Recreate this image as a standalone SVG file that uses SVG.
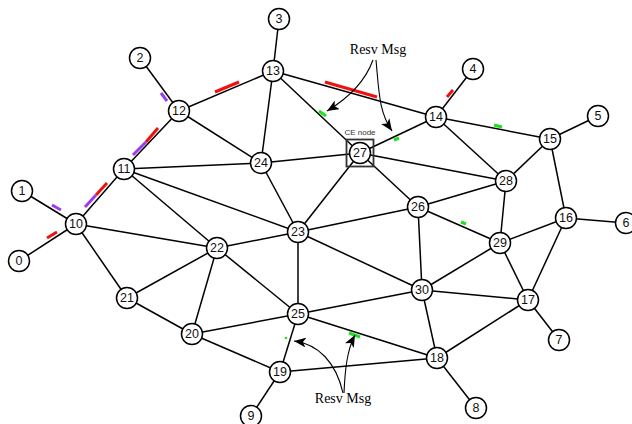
<svg xmlns="http://www.w3.org/2000/svg" width="632" height="424" viewBox="0 0 632 424">
  <style>
    .edge { stroke: #000; stroke-width: 1.5; fill: none; }
    .node circle { fill: #fff; stroke: #000; stroke-width: 1.5; }
    .node text { font-family: "Liberation Sans", Arial, sans-serif; font-size: 12.5px; fill: #111; text-anchor: middle; dominant-baseline: central; }
    .red { stroke: #f01010; stroke-width: 3; stroke-linecap: butt; }
    .purple { stroke: #9b3cf0; stroke-width: 3; stroke-linecap: butt; }
    .green { stroke: #1fe01f; stroke-width: 3; stroke-linecap: butt; }
    .note { font-family: "Liberation Serif", "Times New Roman", serif; font-size: 14px; fill: #000; text-anchor: middle; }
    .callout { stroke: #000; stroke-width: 1.1; fill: none; marker-end: url(#head); }
    .ce-box { fill: none; stroke: #333; stroke-width: 1.8; }
    .ce-label { font-family: "Liberation Sans", Arial, sans-serif; font-size: 8px; fill: #333; text-anchor: middle; }
  </style>
  <defs>
    <marker id="head" viewBox="0 0 12 10" refX="12" refY="5" markerWidth="12" markerHeight="10" markerUnits="userSpaceOnUse" orient="auto">
      <path d="M12,5 L0,0 L3,5 L0,10 z" fill="#000"/>
    </marker>
  </defs>

  <!-- links -->
  <g id="connectors">
    <line class="edge" x1="19" y1="261" x2="76" y2="224"/>
    <line class="edge" x1="22" y1="191" x2="76" y2="224"/>
    <line class="edge" x1="76" y1="224" x2="124" y2="169"/>
    <line class="edge" x1="76" y1="224" x2="217" y2="248"/>
    <line class="edge" x1="76" y1="224" x2="127" y2="298"/>
    <line class="edge" x1="124" y1="169" x2="179" y2="111"/>
    <line class="edge" x1="124" y1="169" x2="261" y2="163"/>
    <line class="edge" x1="124" y1="169" x2="298" y2="232"/>
    <line class="edge" x1="124" y1="169" x2="217" y2="248"/>
    <line class="edge" x1="140" y1="58" x2="179" y2="111"/>
    <line class="edge" x1="179" y1="111" x2="273" y2="71"/>
    <line class="edge" x1="179" y1="111" x2="261" y2="163"/>
    <line class="edge" x1="279" y1="19" x2="273" y2="71"/>
    <line class="edge" x1="273" y1="71" x2="261" y2="163"/>
    <line class="edge" x1="273" y1="71" x2="360" y2="153"/>
    <line class="edge" x1="273" y1="71" x2="436" y2="117"/>
    <line class="edge" x1="473" y1="69" x2="436" y2="117"/>
    <line class="edge" x1="436" y1="117" x2="360" y2="153"/>
    <line class="edge" x1="436" y1="117" x2="550" y2="139"/>
    <line class="edge" x1="436" y1="117" x2="506" y2="181"/>
    <line class="edge" x1="598" y1="116" x2="550" y2="139"/>
    <line class="edge" x1="550" y1="139" x2="506" y2="181"/>
    <line class="edge" x1="550" y1="139" x2="566" y2="218"/>
    <line class="edge" x1="626" y1="223" x2="566" y2="218"/>
    <line class="edge" x1="566" y1="218" x2="500" y2="243"/>
    <line class="edge" x1="566" y1="218" x2="528" y2="300"/>
    <line class="edge" x1="559" y1="340" x2="528" y2="300"/>
    <line class="edge" x1="528" y1="300" x2="500" y2="243"/>
    <line class="edge" x1="528" y1="300" x2="422" y2="290"/>
    <line class="edge" x1="528" y1="300" x2="437" y2="358"/>
    <line class="edge" x1="476" y1="408" x2="437" y2="358"/>
    <line class="edge" x1="437" y1="358" x2="422" y2="290"/>
    <line class="edge" x1="437" y1="358" x2="298" y2="314"/>
    <line class="edge" x1="437" y1="358" x2="280" y2="372"/>
    <line class="edge" x1="251" y1="416" x2="280" y2="372"/>
    <line class="edge" x1="280" y1="372" x2="298" y2="314"/>
    <line class="edge" x1="280" y1="372" x2="192" y2="334"/>
    <line class="edge" x1="192" y1="334" x2="127" y2="298"/>
    <line class="edge" x1="192" y1="334" x2="217" y2="248"/>
    <line class="edge" x1="192" y1="334" x2="298" y2="314"/>
    <line class="edge" x1="127" y1="298" x2="217" y2="248"/>
    <line class="edge" x1="217" y1="248" x2="298" y2="232"/>
    <line class="edge" x1="217" y1="248" x2="298" y2="314"/>
    <line class="edge" x1="298" y1="232" x2="261" y2="163"/>
    <line class="edge" x1="298" y1="232" x2="360" y2="153"/>
    <line class="edge" x1="298" y1="232" x2="418" y2="207"/>
    <line class="edge" x1="298" y1="232" x2="422" y2="290"/>
    <line class="edge" x1="298" y1="232" x2="298" y2="314"/>
    <line class="edge" x1="261" y1="163" x2="360" y2="153"/>
    <line class="edge" x1="298" y1="314" x2="422" y2="290"/>
    <line class="edge" x1="418" y1="207" x2="360" y2="153"/>
    <line class="edge" x1="418" y1="207" x2="506" y2="181"/>
    <line class="edge" x1="418" y1="207" x2="500" y2="243"/>
    <line class="edge" x1="418" y1="207" x2="422" y2="290"/>
    <line class="edge" x1="360" y1="153" x2="506" y2="181"/>
    <line class="edge" x1="506" y1="181" x2="500" y2="243"/>
    <line class="edge" x1="500" y1="243" x2="422" y2="290"/>

    <!-- path marks beside links -->
    <line class="purple" x1="161" y1="93" x2="167" y2="101"/>
    <line class="purple" x1="133" y1="155" x2="146" y2="142"/>
    <line class="red" x1="146" y1="142" x2="158" y2="128"/>
    <line class="purple" x1="85" y1="207" x2="96" y2="195"/>
    <line class="red" x1="96" y1="195" x2="107" y2="183"/>
    <line class="purple" x1="52" y1="205" x2="61" y2="210"/>
    <line class="red" x1="47" y1="238" x2="57" y2="232"/>
    <line class="red" x1="215" y1="92" x2="239" y2="82"/>
    <line class="red" x1="325" y1="82" x2="377" y2="97"/>
    <line class="red" x1="447" y1="97" x2="453" y2="90"/>
    <line class="green" x1="319" y1="111" x2="326" y2="116"/>
    <line class="green" x1="394" y1="140" x2="399" y2="138"/>
    <line class="green" x1="494" y1="125" x2="502" y2="127"/>
    <line class="green" x1="461" y1="222" x2="466" y2="224"/>
    <line class="green" x1="349" y1="333" x2="360" y2="337"/>
    <circle cx="286" cy="338" r="1.3" fill="#1fe01f"/>

    <!-- callout arrows -->
    <path class="callout" d="M373,60 Q362,90 327,111"/>
    <path class="callout" d="M376,60 C379,92 379,112 392,131"/>
    <path class="callout" d="M343,393 C336,362 318,344 294,341"/>
    <path class="callout" d="M344,393 C345,370 347,350 355,335"/>
  </g>

  <text class="note" x="378" y="54">Resv Msg</text>
  <text class="note" x="343" y="403">Resv Msg</text>

  <!-- CE node frame -->
  <g id="ce-node">
    <rect class="ce-box" x="346.5" y="139.5" width="27" height="27"/>
    <text class="ce-label" x="360" y="135">CE node</text>
  </g>

  <!-- nodes -->
  <g id="n0" class="node"><circle cx="19" cy="261" r="10.5"/><text x="19" y="261">0</text></g>
  <g id="n1" class="node"><circle cx="22" cy="191" r="10.5"/><text x="22" y="191">1</text></g>
  <g id="n2" class="node"><circle cx="140" cy="58" r="10.5"/><text x="140" y="58">2</text></g>
  <g id="n3" class="node"><circle cx="279" cy="19" r="10.5"/><text x="279" y="19">3</text></g>
  <g id="n4" class="node"><circle cx="473" cy="69" r="10.5"/><text x="473" y="69">4</text></g>
  <g id="n5" class="node"><circle cx="598" cy="116" r="10.5"/><text x="598" y="116">5</text></g>
  <g id="n6" class="node"><circle cx="626" cy="223" r="10.5"/><text x="626" y="223">6</text></g>
  <g id="n7" class="node"><circle cx="559" cy="340" r="10.5"/><text x="559" y="340">7</text></g>
  <g id="n8" class="node"><circle cx="476" cy="408" r="10.5"/><text x="476" y="408">8</text></g>
  <g id="n9" class="node"><circle cx="251" cy="416" r="10.5"/><text x="251" y="416">9</text></g>
  <g id="n10" class="node"><circle cx="76" cy="224" r="10.5"/><text x="76" y="224">10</text></g>
  <g id="n11" class="node"><circle cx="124" cy="169" r="10.5"/><text x="124" y="169">11</text></g>
  <g id="n12" class="node"><circle cx="179" cy="111" r="10.5"/><text x="179" y="111">12</text></g>
  <g id="n13" class="node"><circle cx="273" cy="71" r="10.5"/><text x="273" y="71">13</text></g>
  <g id="n14" class="node"><circle cx="436" cy="117" r="10.5"/><text x="436" y="117">14</text></g>
  <g id="n15" class="node"><circle cx="550" cy="139" r="10.5"/><text x="550" y="139">15</text></g>
  <g id="n16" class="node"><circle cx="566" cy="218" r="10.5"/><text x="566" y="218">16</text></g>
  <g id="n17" class="node"><circle cx="528" cy="300" r="10.5"/><text x="528" y="300">17</text></g>
  <g id="n18" class="node"><circle cx="437" cy="358" r="10.5"/><text x="437" y="358">18</text></g>
  <g id="n19" class="node"><circle cx="280" cy="372" r="10.5"/><text x="280" y="372">19</text></g>
  <g id="n20" class="node"><circle cx="192" cy="334" r="10.5"/><text x="192" y="334">20</text></g>
  <g id="n21" class="node"><circle cx="127" cy="298" r="10.5"/><text x="127" y="298">21</text></g>
  <g id="n22" class="node"><circle cx="217" cy="248" r="10.5"/><text x="217" y="248">22</text></g>
  <g id="n23" class="node"><circle cx="298" cy="232" r="10.5"/><text x="298" y="232">23</text></g>
  <g id="n24" class="node"><circle cx="261" cy="163" r="10.5"/><text x="261" y="163">24</text></g>
  <g id="n25" class="node"><circle cx="298" cy="314" r="10.5"/><text x="298" y="314">25</text></g>
  <g id="n26" class="node"><circle cx="418" cy="207" r="10.5"/><text x="418" y="207">26</text></g>
  <g id="n27" class="node"><circle cx="360" cy="153" r="10.5"/><text x="360" y="153">27</text></g>
  <g id="n28" class="node"><circle cx="506" cy="181" r="10.5"/><text x="506" y="181">28</text></g>
  <g id="n29" class="node"><circle cx="500" cy="243" r="10.5"/><text x="500" y="243">29</text></g>
  <g id="n30" class="node"><circle cx="422" cy="290" r="10.5"/><text x="422" y="290">30</text></g>
</svg>
